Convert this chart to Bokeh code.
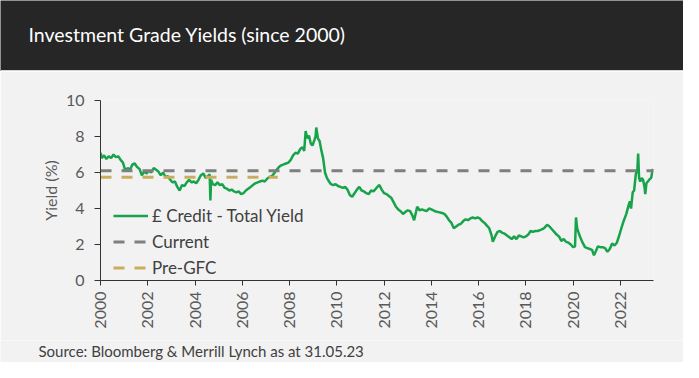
import math
from bokeh.plotting import figure
from bokeh.layouts import column
from bokeh.models import Range1d, FixedTicker, Legend, LegendItem, Label
from bokeh.embed import file_html
from bokeh.resources import INLINE

TITLE = "Investment Grade Yields (since 2000)"
SOURCE = "Source: Bloomberg & Merrill Lynch as at 31.05.23"
Y_LABEL = "Yield (%)"
SERIES_NAMES = ["\u00a3 Credit - Total Yield", "Current", "Pre-GFC"]

X_START, X_END = 2000.0, 2023.4
Y_TICKS = [0, 2, 4, 6, 8, 10]
X_TICKS = [2000, 2002, 2004, 2006, 2008, 2010, 2012, 2014, 2016, 2018, 2020, 2022]
X_TICK_LABELS = [str(t) for t in X_TICKS]

CURRENT = 6.1
PRE_GFC = 5.74
PRE_GFC_END = 2007.5

years = [
    2000.00, 2000.05, 2000.15, 2000.25, 2000.35, 2000.45, 2000.55, 2000.65, 2000.75, 2000.85, 2000.95,
    2001.05, 2001.15, 2001.25, 2001.35, 2001.45, 2001.55, 2001.65, 2001.75, 2001.85, 2001.95,
    2002.05, 2002.15, 2002.25, 2002.35, 2002.45, 2002.55, 2002.65, 2002.75, 2002.85, 2002.95,
    2003.05, 2003.15, 2003.25, 2003.35, 2003.45, 2003.55, 2003.65, 2003.75, 2003.85, 2003.95,
    2004.05, 2004.15, 2004.25, 2004.35, 2004.45, 2004.55, 2004.62, 2004.65, 2004.68, 2004.75, 2004.85, 2004.95,
    2005.05, 2005.15, 2005.25, 2005.35, 2005.45, 2005.55, 2005.65, 2005.75, 2005.85, 2005.95,
    2006.05, 2006.15, 2006.25, 2006.35, 2006.45, 2006.55, 2006.65, 2006.75, 2006.85, 2006.95,
    2007.05, 2007.15, 2007.25, 2007.35, 2007.45, 2007.55, 2007.65, 2007.75, 2007.85, 2007.95,
    2008.05, 2008.15, 2008.25, 2008.35, 2008.45, 2008.55, 2008.62, 2008.68, 2008.75, 2008.82, 2008.90, 2008.97,
    2009.05, 2009.10, 2009.13, 2009.20, 2009.27, 2009.35, 2009.42, 2009.50, 2009.58, 2009.67, 2009.75, 2009.85, 2009.95,
    2010.05, 2010.15, 2010.25, 2010.35, 2010.45, 2010.55, 2010.65, 2010.75, 2010.85, 2010.95,
    2011.05, 2011.15, 2011.25, 2011.35, 2011.45, 2011.55, 2011.65, 2011.75, 2011.80, 2011.90,
    2012.00, 2012.10, 2012.20, 2012.30, 2012.40, 2012.50, 2012.60, 2012.70, 2012.80, 2012.90,
    2013.00, 2013.10, 2013.20, 2013.27, 2013.35, 2013.40, 2013.50, 2013.60, 2013.70, 2013.80, 2013.90,
    2014.00, 2014.15, 2014.30, 2014.45, 2014.55, 2014.65, 2014.75, 2014.85, 2014.95,
    2015.05, 2015.15, 2015.25, 2015.35, 2015.45, 2015.55, 2015.65, 2015.75, 2015.85, 2015.95,
    2016.05, 2016.15, 2016.25, 2016.35, 2016.45, 2016.55, 2016.60, 2016.70, 2016.80, 2016.90,
    2017.00, 2017.10, 2017.20, 2017.30, 2017.40, 2017.50, 2017.60, 2017.70, 2017.80, 2017.90,
    2018.00, 2018.10, 2018.20, 2018.30, 2018.40, 2018.50, 2018.60, 2018.70, 2018.80, 2018.90,
    2019.00, 2019.10, 2019.20, 2019.30, 2019.40, 2019.50, 2019.60, 2019.70, 2019.80, 2019.90,
    2020.00, 2020.08, 2020.12, 2020.17, 2020.22, 2020.30, 2020.40, 2020.50, 2020.60, 2020.70, 2020.80, 2020.88, 2020.95,
    2021.05, 2021.15, 2021.25, 2021.35, 2021.45, 2021.55, 2021.65, 2021.75, 2021.85, 2021.95,
    2022.05, 2022.15, 2022.25, 2022.35, 2022.40, 2022.45, 2022.52, 2022.58, 2022.65, 2022.72, 2022.75, 2022.79,
    2022.84, 2022.90, 2022.96, 2023.02, 2023.05, 2023.10, 2023.16, 2023.22, 2023.30, 2023.37,
]
yields = [
    7.10, 6.80, 6.95, 6.75, 6.90, 6.80, 7.00, 6.85, 6.90, 6.70, 6.55,
    6.10, 6.25, 6.15, 6.45, 6.50, 6.30, 6.20, 5.85, 6.05, 5.95,
    6.10, 6.00, 6.25, 6.15, 6.05, 5.85, 6.00, 5.75, 5.80, 5.60,
    5.45, 5.50, 5.20, 5.00, 5.30, 5.25, 5.45, 5.60, 5.45, 5.50,
    5.40, 5.60, 5.85, 5.95, 5.70, 5.80, 5.90, 4.45, 5.60, 5.35, 5.30, 5.45,
    5.30, 5.35, 5.15, 5.10, 5.00, 5.05, 4.95, 4.90, 4.95, 4.80,
    4.85, 5.00, 5.10, 5.20, 5.30, 5.40, 5.45, 5.50, 5.55, 5.50,
    5.65, 5.75, 5.80, 5.95, 6.15, 6.30, 6.40, 6.45, 6.50, 6.55,
    6.70, 6.95, 7.10, 7.05, 7.30, 7.40, 7.20, 8.30, 7.90, 8.05, 7.60, 7.50,
    7.80, 8.00, 8.50, 7.90, 7.75, 7.20, 6.80, 6.00, 5.70, 5.50, 5.35, 5.30, 5.35,
    5.25, 5.20, 5.15, 5.20, 5.05, 4.75, 4.65, 4.85, 5.05, 5.20,
    5.00, 4.95, 4.85, 4.80, 5.00, 4.95, 5.10, 5.25, 5.30, 5.05,
    4.85, 4.80, 4.70, 4.60, 4.35, 4.10, 3.95, 3.85, 3.70, 3.80,
    3.90, 3.85, 3.60, 3.35, 3.80, 4.10, 3.90, 3.95, 3.90, 3.85, 4.00,
    3.95, 3.85, 3.80, 3.75, 3.70, 3.55, 3.35, 3.20, 2.90,
    3.00, 3.10, 3.15, 3.30, 3.40, 3.35, 3.45, 3.50, 3.45, 3.50,
    3.45, 3.30, 3.20, 3.05, 2.90, 2.50, 2.15, 2.45, 2.70, 2.75,
    2.65, 2.60, 2.50, 2.40, 2.30, 2.45, 2.30, 2.50, 2.45, 2.40,
    2.45, 2.55, 2.75, 2.70, 2.75, 2.75, 2.80, 2.85, 2.95, 3.10,
    3.00, 2.85, 2.70, 2.55, 2.45, 2.20, 2.30, 2.15, 2.10, 2.00,
    1.85, 1.90, 3.50, 2.90, 2.70, 2.40, 2.10, 1.85, 1.80, 1.75, 1.70, 1.40, 1.60,
    1.90, 1.85, 1.85, 1.80, 1.60, 1.75, 2.05, 1.95, 2.10, 2.50,
    2.95, 3.35, 3.70, 4.20, 4.40, 4.00, 4.90, 5.00, 5.90, 6.20, 7.05, 5.70,
    5.50, 5.70, 5.60, 5.20, 4.80, 5.40, 5.50, 5.60, 5.70, 6.20,
]

BG = "#f2f2f2"
HEAD = "#262626"
GREEN = "#17a34a"
GREY = "#7f7f7f"
TAN = "#c9ad5f"
FONT = "Lato"

W = 683
HEAD_H, MAIN_H, FOOT_H = 71, 269, 22


def blank(h, fill):
    f = figure(width=W, height=h, x_range=Range1d(0, W), y_range=Range1d(0, h),
               x_axis_type=None, y_axis_type=None, toolbar_location=None,
               output_backend="svg", min_border=0, title=None)
    f.frame_align = False
    f.background_fill_color = fill
    f.border_fill_color = fill
    f.outline_line_color = None
    f.grid.visible = False
    return f


# ---- header ----
head = blank(HEAD_H, HEAD)
head.segment(x0=[0], y0=[0.75], x1=[W], y1=[0.75], line_color="#d4d4d4", line_width=1.5)
head.add_layout(Label(x=28, y=37.5, text=TITLE, text_color="white", text_font=FONT,
                      text_font_size="19.5px", text_baseline="alphabetic"))

# ---- main chart ----
p = figure(width=W, height=MAIN_H, x_range=Range1d(X_START, X_END), y_range=Range1d(0, 10),
           toolbar_location=None, output_backend="svg",
           min_border_left=100, min_border_right=30, min_border_top=29, min_border_bottom=60)
p.background_fill_color = BG
p.border_fill_color = BG
p.outline_line_color = None
p.grid.visible = False

r_green = p.line(years, yields, line_color=GREEN, line_width=2.5)
r_cur = p.line([X_START, X_END], [CURRENT, CURRENT], line_color=GREY, line_width=3, line_dash="11 10")
r_pre = p.line([X_START, PRE_GFC_END], [PRE_GFC, PRE_GFC], line_color=TAN, line_width=3, line_dash="11 10")

for ax in (p.xaxis[0], p.yaxis[0]):
    ax.axis_line_color = "#333333"
    ax.major_tick_line_color = "#333333"
    ax.minor_tick_line_color = None
    ax.major_tick_in = 0
    ax.major_label_text_color = "#595959"
    ax.major_label_text_font = FONT
    ax.major_label_text_font_size = "16px"

p.xaxis.ticker = FixedTicker(ticks=X_TICKS)
p.xaxis.major_label_overrides = {t: l for t, l in zip(X_TICKS, X_TICK_LABELS)}
p.xaxis.major_label_orientation = math.pi / 2
p.xaxis.major_tick_out = 5
p.xaxis.major_label_standoff = 6

p.yaxis.ticker = FixedTicker(ticks=Y_TICKS)
p.yaxis.major_tick_out = 6
p.yaxis.major_label_standoff = 10
p.yaxis.axis_label = Y_LABEL
p.yaxis.axis_label_text_font = FONT
p.yaxis.axis_label_text_font_style = "normal"
p.yaxis.axis_label_text_font_size = "16px"
p.yaxis.axis_label_text_color = "#595959"
p.yaxis.axis_label_standoff = 3

legend = Legend(items=[LegendItem(label=SERIES_NAMES[0], renderers=[r_green]),
                       LegendItem(label=SERIES_NAMES[1], renderers=[r_cur]),
                       LegendItem(label=SERIES_NAMES[2], renderers=[r_pre])],
                location=(13, 2), background_fill_alpha=0, border_line_alpha=0,
                padding=0, margin=0, spacing=5, glyph_width=35, glyph_height=21,
                label_height=21, label_standoff=4,
                label_text_font=FONT, label_text_font_size="17px", label_text_color="#404040")
p.add_layout(legend)

# ---- footer ----
foot = blank(FOOT_H, BG)
foot.add_layout(Label(x=38, y=12, text=SOURCE, text_font=FONT, text_font_size="15px",
                      text_color="#404040", text_baseline="alphabetic"))

layout = column(head, p, foot, spacing=0)
open("out.html", "w").write(file_html(layout, INLINE))
